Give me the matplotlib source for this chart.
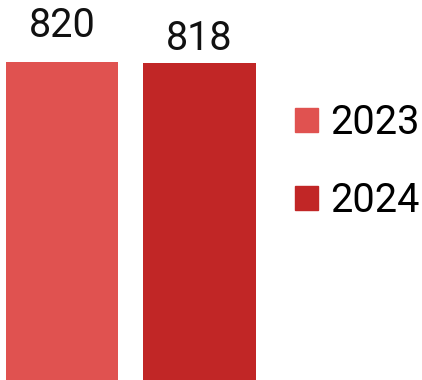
import matplotlib
matplotlib.use("Agg")
from matplotlib import pyplot as plt
from matplotlib.patches import Patch

plt.rcParams["font.family"] = ["Roboto", "DejaVu Sans"]

years = ["2023", "2024"]
values = [820, 818]
colors = ["#E05250", "#C12626"]
label_offsets = [25, 13]  # px gap between bar top and value baseline

fig = plt.figure(figsize=(4.22, 3.80), dpi=100)
ax = fig.add_axes([0, 0, 270 / 422, 1])

x = [0, 1]
bars = ax.bar(x, values, width=0.815, color=colors)
ax.set_xlim(-0.451, -0.451 + 270 / 137.5)
ax.set_ylim(0, 820 * 380 / 318)
ax.axis("off")

for b, v, off in zip(bars, values, label_offsets):
    ax.annotate(str(v), (b.get_x() + b.get_width() / 2, v),
                xytext=(0, off * 0.72), textcoords="offset points",
                ha="center", va="baseline", fontsize=28.5, color="#111111")

handles = [Patch(color=c, label=y) for c, y in zip(colors, years)]
fig.legend(handles=handles, loc="upper left",
           bbox_to_anchor=(295 / 422, 1 - 103 / 380), frameon=False,
           fontsize=28.5, handlelength=0.58, handleheight=0.58,
           handletextpad=0.3, labelspacing=0.98, borderpad=0,
           borderaxespad=0)

fig.savefig("out.png", dpi=100)
